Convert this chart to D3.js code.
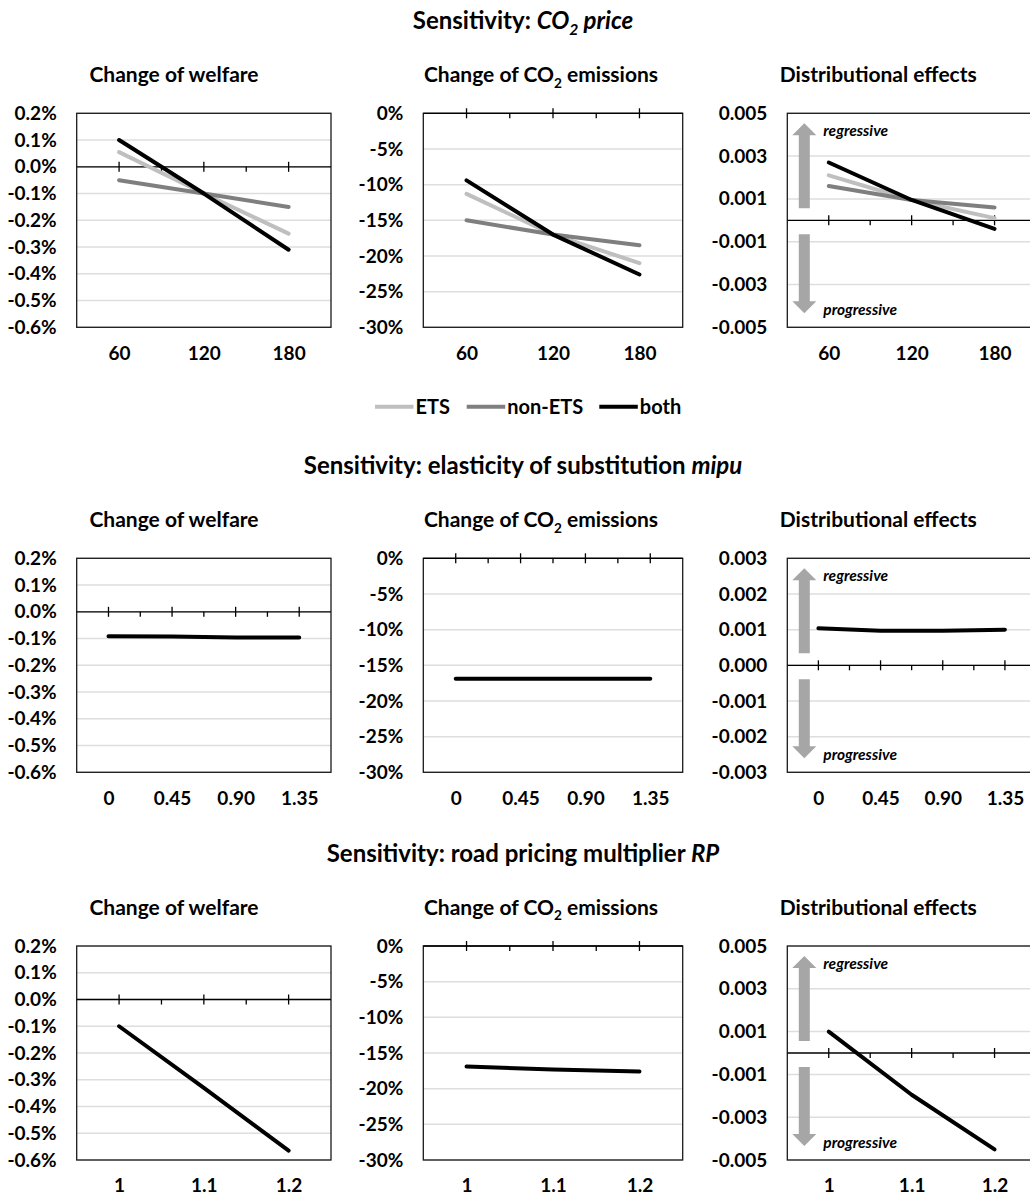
<!DOCTYPE html>
<html>
<head>
<meta charset="utf-8">
<script src="https://cdn.jsdelivr.net/npm/d3@7"></script>
<style>
  body { margin: 0; background: #fff; }
  svg { display: block; font-family: Lato, "Open Sans", sans-serif; font-weight: 700; }
</style>
</head>
<body>
<svg id="chart" width="1030" height="1198"></svg>
<script>
// ---------- data ----------
// Sensitivity 1: CO2 price (EUR/t)
const co2Price = [60, 120, 180];
const co2PriceLabels = ["60", "120", "180"];
const co2WelfareETS    = [0.055, -0.10, -0.25];
const co2WelfareNonETS = [-0.05, -0.10, -0.15];
const co2WelfareBoth   = [0.10, -0.10, -0.31];
const co2EmisETS    = [-11.3, -17.0, -21.0];
const co2EmisNonETS = [-15.0, -17.0, -18.5];
const co2EmisBoth   = [-9.4, -17.0, -22.6];
const co2DistETS    = [0.0021, 0.00095, 0.0001];
const co2DistNonETS = [0.0016, 0.00095, 0.0006];
const co2DistBoth   = [0.0027, 0.00095, -0.0004];

// Sensitivity 2: elasticity of substitution mipu
const mipu = [0, 0.45, 0.90, 1.35];
const mipuLabels = ["0", "0.45", "0.90", "1.35"];
const mipuWelfare = [-0.091, -0.092, -0.096, -0.096];
const mipuEmis    = [-16.9, -16.9, -16.9, -16.9];
const mipuDist    = [0.00104, 0.00097, 0.00097, 0.0010];

// Sensitivity 3: road pricing multiplier RP
const rp = [1, 1.1, 1.2];
const rpLabels = ["1", "1.1", "1.2"];
const rpWelfare = [-0.10, -0.33, -0.565];
const rpEmis    = [-16.9, -17.3, -17.6];
const rpDist    = [0.0010, -0.00195, -0.0045];

// Axis ticks
const welfareTicks = [0.2, 0.1, 0, -0.1, -0.2, -0.3, -0.4, -0.5, -0.6];
const welfareTickLabels = ["0.2%", "0.1%", "0.0%", "-0.1%", "-0.2%", "-0.3%", "-0.4%", "-0.5%", "-0.6%"];
const emisTicks = [0, -5, -10, -15, -20, -25, -30];
const emisTickLabels = ["0%", "-5%", "-10%", "-15%", "-20%", "-25%", "-30%"];
const distTicksWide = [0.005, 0.003, 0.001, -0.001, -0.003, -0.005];
const distTickLabelsWide = ["0.005", "0.003", "0.001", "-0.001", "-0.003", "-0.005"];
const distTicksNarrow = [0.003, 0.002, 0.001, 0, -0.001, -0.002, -0.003];
const distTickLabelsNarrow = ["0.003", "0.002", "0.001", "0.000", "-0.001", "-0.002", "-0.003"];

const seriesNames = ["ETS", "non-ETS", "both"];

// ---------- styling / layout ----------
const seriesColor = { "ETS": "#bfbfbf", "non-ETS": "#7f7f7f", "both": "#000000" };
const cols = [
  { x0: 76.7, x1: 331 },
  { x0: 423.3, x1: 682.7 },
  { x0: 787.3, x1: 1036 }
];
const panelTitleX = [174, 541, 878.3];
const rowTops = [113.3, 558.3, 946];
const plotH = 214;
const mainTitleX = 523;
const tickFont = 19, titleFont = 21, mainFont = 24;

const svg = d3.select("#chart");

function richText(sel, parts, size) {
  parts.forEach(p => {
    const t = sel.append("tspan").text(p.t);
    if (p.i) t.attr("font-style", "italic");
    if (p.sub) t.attr("font-size", size * 0.65).attr("dy", size * 0.25);
    if (p.after) t.attr("dy", -size * 0.25);
  });
}

function arrowPath(cx, yTail, yTip) {
  const dir = yTip < yTail ? -1 : 1;
  const hw = 12, sw = 5.5, hh = 12;
  const ys = yTip - dir * hh;
  return `M${cx - sw},${yTail}L${cx - sw},${ys}L${cx - hw},${ys}L${cx},${yTip}L${cx + hw},${ys}L${cx + sw},${ys}L${cx + sw},${yTail}Z`;
}

function drawPanel(cfg) {
  const g = svg.append("g");
  const top = cfg.top, bottom = cfg.top + plotH;
  const x = d3.scaleLinear().domain(cfg.xDomain).range([cfg.x0, cfg.x1]);
  const y = d3.scaleLinear().domain(cfg.yDomain).range([bottom, top]);

  // panel title
  const tt = g.append("text").attr("x", cfg.titleX).attr("y", top - 31)
    .attr("text-anchor", "middle").attr("font-size", titleFont).attr("fill", "#000");
  richText(tt, cfg.title, titleFont);

  // horizontal gridlines
  g.append("g").selectAll("line").data(cfg.yTicks).join("line")
    .attr("x1", cfg.x0).attr("x2", cfg.x1)
    .attr("y1", d => y(d)).attr("y2", d => y(d))
    .attr("stroke", "#dedede").attr("stroke-width", 1.5);

  // regressive / progressive annotation
  if (cfg.arrows) {
    const cx = cfg.x0 + 17, y0 = y(0);
    g.append("path").attr("d", arrowPath(cx, y0 - 12, top + 10)).attr("fill", "#a6a6a6");
    g.append("path").attr("d", arrowPath(cx, y0 + 14, bottom - 14)).attr("fill", "#a6a6a6");
    g.append("text").attr("x", cfg.x0 + 36).attr("y", top + 23)
      .attr("font-size", 15.5).attr("font-style", "italic").text("regressive");
    g.append("text").attr("x", cfg.x0 + 36).attr("y", bottom - 12)
      .attr("font-size", 15.5).attr("font-style", "italic").text("progressive");
  }

  // plot frame
  g.append("rect").attr("x", cfg.x0).attr("y", top)
    .attr("width", cfg.x1 - cfg.x0).attr("height", plotH)
    .attr("fill", "none").attr("stroke", "#1a1a1a").attr("stroke-width", 1.3);

  // horizontal axis at zero with major (crossing) and minor (inside) ticks
  const yz = y(0);
  g.append("line").attr("x1", cfg.x0).attr("x2", cfg.x1).attr("y1", yz).attr("y2", yz)
    .attr("stroke", "#000").attr("stroke-width", 1.3);
  const step = cfg.xValues[1] - cfg.xValues[0];
  const minor = cfg.xValues.slice(0, -1).map(v => v + step / 2);
  g.append("g").selectAll("line").data(cfg.xValues).join("line")
    .attr("x1", d => x(d)).attr("x2", d => x(d)).attr("y1", yz - 5).attr("y2", yz + 5)
    .attr("stroke", "#000").attr("stroke-width", 1.3);
  g.append("g").selectAll("line").data(minor).join("line")
    .attr("x1", d => x(d)).attr("x2", d => x(d)).attr("y1", yz).attr("y2", yz + 5)
    .attr("stroke", "#000").attr("stroke-width", 1.3);

  // series lines
  const line = d3.line().x(d => x(d[0])).y(d => y(d[1]));
  cfg.series.forEach(s => {
    g.append("path").datum(d3.zip(cfg.xValues, s.values)).attr("d", line)
      .attr("fill", "none").attr("stroke", seriesColor[s.name])
      .attr("stroke-width", 4).attr("stroke-linecap", "round").attr("stroke-linejoin", "round");
  });

  // y tick labels
  const ya = g.append("g").attr("transform", `translate(${cfg.x0},0)`)
    .call(d3.axisLeft(y).tickValues(cfg.yTicks)
      .tickFormat((d, i) => cfg.yTickLabels[i]).tickSize(0).tickPadding(20));
  ya.select(".domain").remove();
  ya.attr("font-family", null).attr("font-size", tickFont);
  ya.selectAll("text").attr("fill", "#000");

  // x tick labels
  const xa = g.append("g").attr("transform", `translate(0,${bottom})`)
    .call(d3.axisBottom(x).tickValues(cfg.xValues)
      .tickFormat((d, i) => cfg.xLabels[i]).tickSize(0).tickPadding(19));
  xa.select(".domain").remove();
  xa.attr("font-family", null).attr("font-size", tickFont);
  xa.selectAll("text").attr("fill", "#000");
}

const sectionTitles = [
  [{ t: "Sensitivity: " }, { t: "CO", i: 1 }, { t: "2", i: 1, sub: 1 }, { t: " price", i: 1, after: 1 }],
  [{ t: "Sensitivity: elasticity of substitution " }, { t: "mipu", i: 1 }],
  [{ t: "Sensitivity: road pricing multiplier " }, { t: "RP", i: 1 }]
];
const panelTitles = [
  [{ t: "Change of welfare" }],
  [{ t: "Change of CO" }, { t: "2", sub: 1 }, { t: " emissions", after: 1 }],
  [{ t: "Distributional effects" }]
];

const sections = [
  {
    xDomain: [30, 210], xValues: co2Price, xLabels: co2PriceLabels,
    panels: [
      { yDomain: [-0.6, 0.2], yTicks: welfareTicks, yTickLabels: welfareTickLabels,
        series: [{ name: "ETS", values: co2WelfareETS }, { name: "non-ETS", values: co2WelfareNonETS }, { name: "both", values: co2WelfareBoth }] },
      { yDomain: [-30, 0], yTicks: emisTicks, yTickLabels: emisTickLabels,
        series: [{ name: "ETS", values: co2EmisETS }, { name: "non-ETS", values: co2EmisNonETS }, { name: "both", values: co2EmisBoth }] },
      { yDomain: [-0.005, 0.005], yTicks: distTicksWide, yTickLabels: distTickLabelsWide, arrows: true,
        series: [{ name: "ETS", values: co2DistETS }, { name: "non-ETS", values: co2DistNonETS }, { name: "both", values: co2DistBoth }] }
    ]
  },
  {
    xDomain: [-0.225, 1.575], xValues: mipu, xLabels: mipuLabels,
    panels: [
      { yDomain: [-0.6, 0.2], yTicks: welfareTicks, yTickLabels: welfareTickLabels, series: [{ name: "both", values: mipuWelfare }] },
      { yDomain: [-30, 0], yTicks: emisTicks, yTickLabels: emisTickLabels, series: [{ name: "both", values: mipuEmis }] },
      { yDomain: [-0.003, 0.003], yTicks: distTicksNarrow, yTickLabels: distTickLabelsNarrow, arrows: true, series: [{ name: "both", values: mipuDist }] }
    ]
  },
  {
    xDomain: [0.95, 1.25], xValues: rp, xLabels: rpLabels,
    panels: [
      { yDomain: [-0.6, 0.2], yTicks: welfareTicks, yTickLabels: welfareTickLabels, series: [{ name: "both", values: rpWelfare }] },
      { yDomain: [-30, 0], yTicks: emisTicks, yTickLabels: emisTickLabels, series: [{ name: "both", values: rpEmis }] },
      { yDomain: [-0.005, 0.005], yTicks: distTicksWide, yTickLabels: distTickLabelsWide, arrows: true, series: [{ name: "both", values: rpDist }] }
    ]
  }
];

sections.forEach((sec, r) => {
  const top = rowTops[r];
  const mt = svg.append("text").attr("x", mainTitleX).attr("y", top - 84)
    .attr("text-anchor", "middle").attr("font-size", mainFont).attr("fill", "#000");
  richText(mt, sectionTitles[r], mainFont);
  sec.panels.forEach((p, c) => {
    drawPanel(Object.assign({}, p, {
      top, x0: cols[c].x0, x1: cols[c].x1, titleX: panelTitleX[c], title: panelTitles[c],
      xDomain: sec.xDomain, xValues: sec.xValues, xLabels: sec.xLabels
    }));
  });
});

// legend for the CO2 price section
const legend = svg.append("g").attr("transform", "translate(375,406.7)");
const legendX = [0, 91.7, 224.3];
seriesNames.forEach((n, i) => {
  const it = legend.append("g").attr("transform", `translate(${legendX[i]},0)`);
  it.append("line").attr("x1", 0).attr("x2", 38.5).attr("stroke", seriesColor[n]).attr("stroke-width", 4);
  it.append("text").attr("x", 40.5).attr("y", 7).attr("font-size", 20).attr("fill", "#000").text(n);
});
</script>
</body>
</html>
